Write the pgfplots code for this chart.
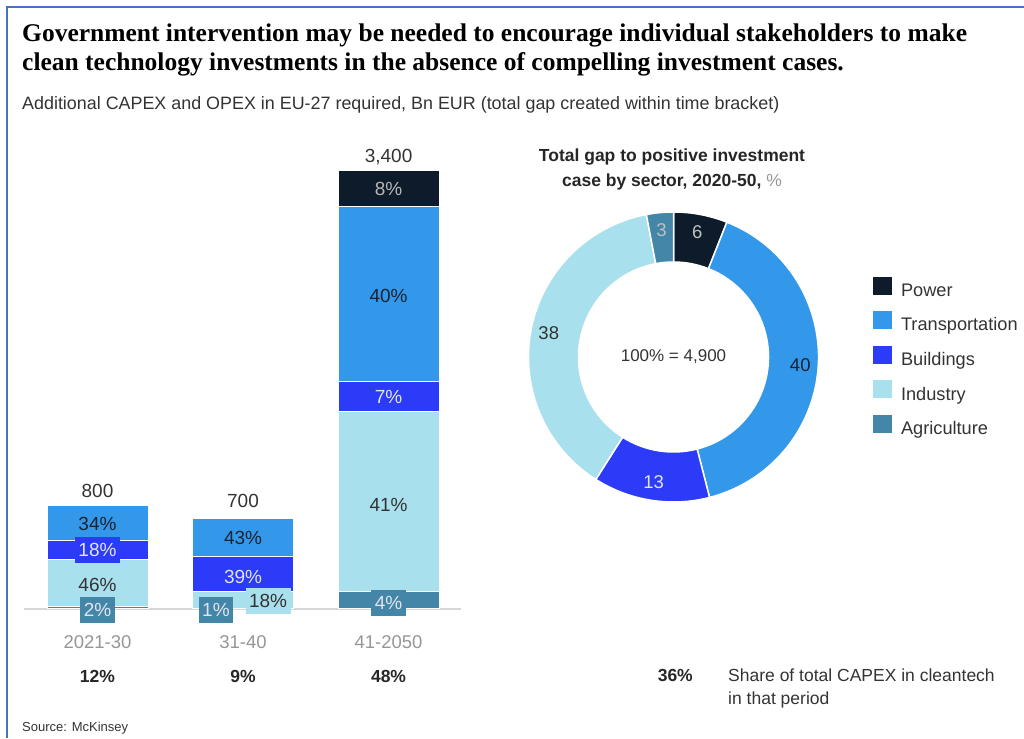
\documentclass[border=0pt]{standalone}
\usepackage{pgfplots}
\pgfplotsset{compat=1.18}
\usepackage{fontspec}
\setmainfont{Liberation Sans}
\newfontfamily\titlefont{Liberation Serif}
\usetikzlibrary{calc}

\definecolor{cpower}{RGB}{13,27,42}
\definecolor{ctrans}{RGB}{52,152,234}
\definecolor{cbuild}{RGB}{43,59,247}
\definecolor{cind}{RGB}{169,224,237}
\definecolor{cagri}{RGB}{68,134,168}
\definecolor{cborder}{RGB}{68,114,196}
\definecolor{ctext}{RGB}{51,51,51}
\definecolor{cdark}{RGB}{25,35,50}
\definecolor{clight}{RGB}{225,228,240}
\definecolor{cgray}{RGB}{150,150,150}
\definecolor{cline}{RGB}{215,215,215}

\newcommand{\fs}[1]{\fontsize{#1}{#1}\selectfont}
\tikzset{
  bar lab/.style={font=\fs{19}, inner sep=0pt},
  box lab/.style={font=\fs{19}, inner xsep=3.5pt, inner ysep=0pt, minimum height=26pt},
}
\pgfplotsset{
  barframe/.style={
    at={(97.5pt,129pt)}, anchor=origin, scale only axis,
    width=437pt, height=438pt,
    xmin=-0.505, xmax=2.498, ymin=0, ymax=3400, clip=false},
}

% donut wedge: start value (percent), value (percent), colour
\newcommand{\dwedge}[3]{%
  \filldraw[fill=#3, draw=white, line width=1.5pt]
    ($(axis cs:0,0)+({90-3.6*(#1)}:145pt)$)
    arc[start angle={90-3.6*(#1)}, end angle={90-3.6*(#1+#2)}, radius=145pt]
    -- ($(axis cs:0,0)+({90-3.6*(#1+#2)}:95pt)$)
    arc[start angle={90-3.6*(#1+#2)}, end angle={90-3.6*(#1)}, radius=95pt]
    -- cycle;}
\newcommand{\dlabel}[3]{%
  \node[text=#3, font=\fs{18.5}] at ($(axis cs:0,0)+({90-3.6*(#1+#2/2)}:127pt)$) {#2};}

\begin{document}
\begin{tikzpicture}
\useasboundingbox (0pt,0pt) rectangle (1024pt,738pt);
\draw[cborder, line width=2.5pt] (7pt,0pt) -- (7pt,731pt) -- (1024pt,731pt);

% titles
\node[anchor=base west, inner sep=0, font=\titlefont\bfseries\fs{25.5}, text=black] at (22pt,696pt)
  {Government intervention may be needed to encourage individual stakeholders to make};
\node[anchor=base west, inner sep=0, font=\titlefont\bfseries\fs{25.5}, text=black] at (22pt,667pt)
  {clean technology investments in the absence of compelling investment cases.};
\node[anchor=base west, inner sep=0, font=\fs{17.9}, text=ctext] at (22pt,628pt)
  {Additional CAPEX and OPEX in EU-27 required, Bn EUR (total gap created within time bracket)};

% stacked bars
\begin{axis}[
  barframe,
  ybar stacked, bar width=101pt,
  axis x line=bottom, axis y line=none,
  x axis line style={-, draw=cline, line width=1.5pt},
  xtick={0,1,2}, xticklabels={2021-30,31-40,41-2050},
  major tick length=0pt,
  xticklabel style={anchor=base, yshift=-40pt, text=cgray, font=\fs{18.5}},
  reverse legend,
  legend cell align=left,
  legend style={at={(1.9355,0.764)}, anchor=north west, draw=none, fill=none,
    font=\fs{18.2}, text=ctext, row sep=11.35pt,
    /tikz/every odd column/.append style={column sep=7pt}},
  legend image code/.code={\fill[#1, draw=none] (0pt,-4pt) rectangle (19pt,14pt);},
]
\addplot[fill=cagri, draw=white, line width=1pt] coordinates {(0,16) (1,7) (2,136)};
\addplot[fill=cind, draw=white, line width=1pt] coordinates {(0,368) (1,126) (2,1394)};
\addplot[fill=cbuild, draw=white, line width=1pt] coordinates {(0,144) (1,273) (2,238)};
\addplot[fill=ctrans, draw=white, line width=1pt] coordinates {(0,272) (1,294) (2,1360)};
\addplot[fill=cpower, draw=white, line width=1pt] coordinates {(0,0) (1,0) (2,272)};
\legend{Agriculture,Industry,Buildings,Transportation,Power}
\end{axis}

% labels on top of the bars (same frame)
\begin{axis}[barframe, hide axis]
\addplot[draw=none] coordinates {(0,0)};
% totals
\node[bar lab, text=ctext] at (axis cs:0,916) {800};
\node[bar lab, text=ctext] at (axis cs:1,838) {700};
\node[bar lab, text=ctext] at (axis cs:2,3509) {3,400};
% bar 1
\node[bar lab, text=cdark] at (axis cs:0,660) {34\%};
\node[box lab, fill=cbuild, text=clight] at (axis cs:0,458) {18\%};
\node[bar lab, text=ctext] at (axis cs:0,186) {46\%};
\node[box lab, fill=cagri, text=clight] at (axis cs:0,-4) {2\%};
% bar 2
\node[bar lab, text=cdark] at (axis cs:1,551) {43\%};
\node[bar lab, text=clight] at (axis cs:1,248) {39\%};
\node[box lab, fill=cind, text=ctext] at (axis cs:1.172,62) {18\%};
\node[box lab, fill=cagri, text=clight] at (axis cs:0.814,-4) {1\%};
% bar 3
\node[bar lab, text=cgray!70] at (axis cs:2,3260) {8\%};
\node[bar lab, text=cdark] at (axis cs:2,2430) {40\%};
\node[box lab, fill=cbuild, text=clight] at (axis cs:2,1648) {7\%};
\node[bar lab, text=ctext] at (axis cs:2,807) {41\%};
\node[box lab, fill=cagri, text=clight] at (axis cs:2,47) {4\%};
% share of CAPEX
\node[anchor=base, font=\bfseries\fs{17.5}, text=black!85] at (axis cs:0,-570) {12\%};
\node[anchor=base, font=\bfseries\fs{17.5}, text=black!85] at (axis cs:1,-570) {9\%};
\node[anchor=base, font=\bfseries\fs{17.5}, text=black!85] at (axis cs:2,-570) {48\%};
\end{axis}

% donut
\begin{axis}[
  at={(673.5pt,381pt)}, anchor=origin, scale only axis,
  width=290pt, height=290pt, hide axis,
  xmin=-1, xmax=1, ymin=-1, ymax=1, clip=false]
\addplot[draw=none] coordinates {(0,0)};
\dwedge{0}{6}{cpower}
\dwedge{6}{40}{ctrans}
\dwedge{46}{13}{cbuild}
\dwedge{59}{38}{cind}
\dwedge{97}{3}{cagri}
\dlabel{0}{6}{cgray!60}
\dlabel{6}{40}{cdark}
\dlabel{46}{13}{clight}
\dlabel{59}{38}{ctext}
\dlabel{97}{3}{cgray!60}
\node[font=\fs{17}, text=ctext] at (axis cs:0,0) {100\% = 4,900};
\end{axis}

\node[anchor=base, inner sep=0, font=\bfseries\fs{17.5}, text=black!85] at (672pt,576pt)
  {Total gap to positive investment};
\node[anchor=base, inner sep=0, font=\fs{17.5}, text=black!85] at (672pt,551pt)
  {\textbf{case by sector, 2020-50,} \textcolor{cgray}{\%}};

% share note
\node[anchor=base east, inner sep=0, font=\bfseries\fs{17.5}, text=black!85] at (693pt,56pt) {36\%};
\node[anchor=base west, inner sep=0, font=\fs{17.5}, text=ctext] at (728pt,56pt) {Share of total CAPEX in cleantech};
\node[anchor=base west, inner sep=0, font=\fs{17.5}, text=ctext] at (728pt,33pt) {in that period};
\node[anchor=base west, inner sep=0, font=\fs{13}, text=ctext] at (22pt,7pt) {Source: McKinsey};
\end{tikzpicture}
\end{document}
